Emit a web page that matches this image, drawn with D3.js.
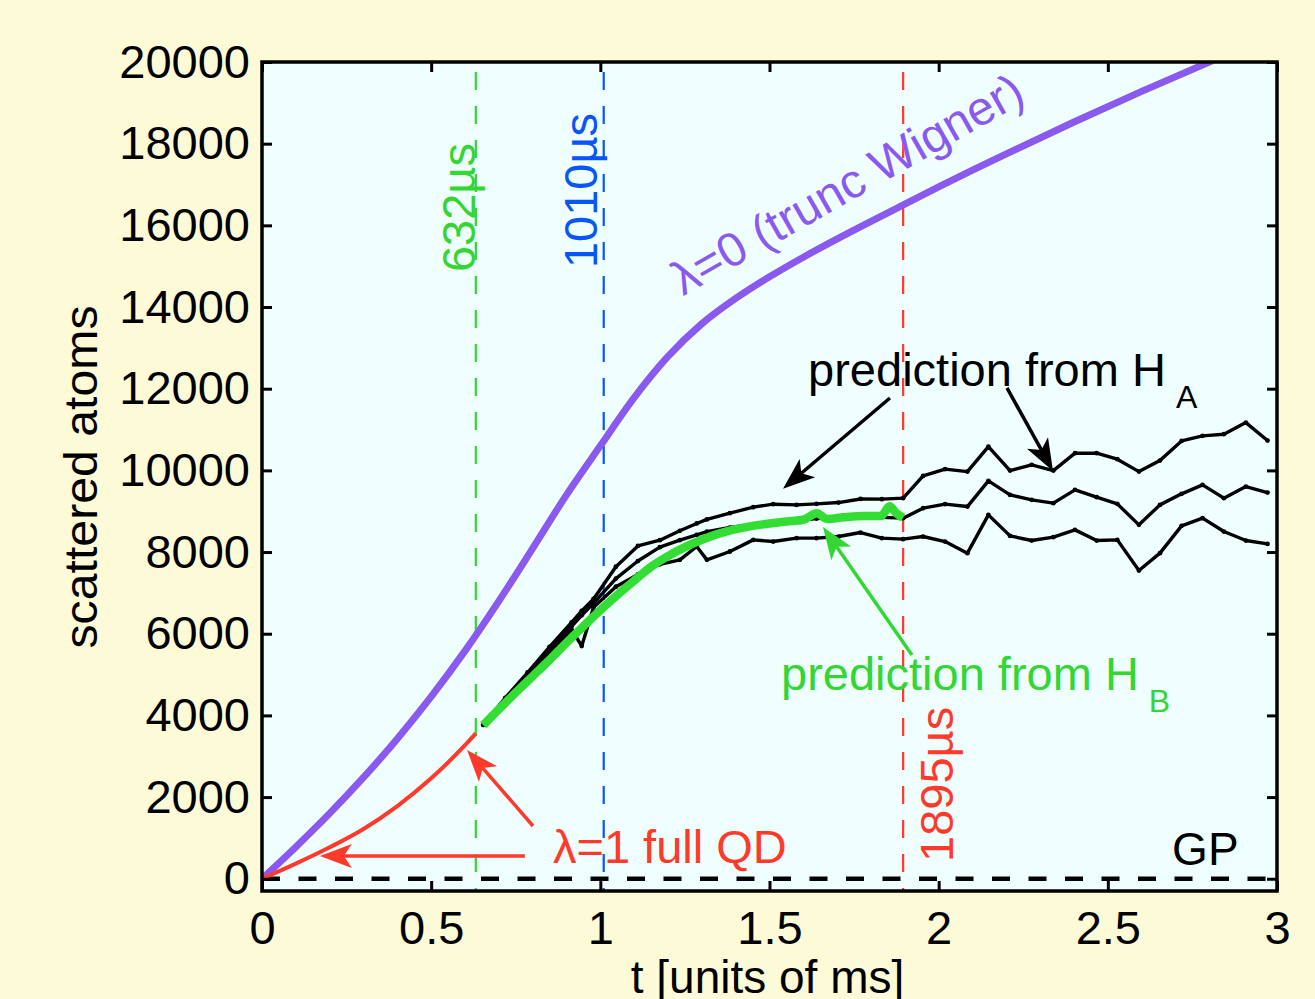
<!DOCTYPE html>
<html><head><meta charset="utf-8">
<script src="https://cdn.jsdelivr.net/npm/d3@7"></script>
<style>
html,body{margin:0;padding:0;background:#fdfad8;}
svg{display:block;}
text{font-family:"Liberation Sans",Arial,Helvetica,sans-serif;}
</style></head><body>
<svg id="chart" width="1315" height="999"></svg>
<script>
// ---------- data ----------
const xTicks = [0, 0.5, 1, 1.5, 2, 2.5, 3];
const xTickLabels = ["0", "0.5", "1", "1.5", "2", "2.5", "3"];
const yTicks = [0, 2000, 4000, 6000, 8000, 10000, 12000, 14000, 16000, 18000, 20000];

// lambda = 0 (truncated Wigner)
const tPurple = [0, 0.1, 0.2, 0.3, 0.4, 0.5, 0.6, 0.7, 0.8, 0.9, 1.0, 1.1, 1.2, 1.3, 1.4, 1.5, 1.6, 1.7, 1.8, 1.9, 2.0, 2.1, 2.2, 2.4, 2.6, 2.81];
const vPurple = [0, 780, 1600, 2480, 3430, 4460, 5580, 6800, 8090, 9400, 10600, 11780, 12790, 13590, 14210, 14740, 15220, 15670, 16100, 16520, 16940, 17350, 17750, 18530, 19280, 20035];

// lambda = 1 full QD
const tRed = [0, 0.1, 0.2, 0.3, 0.4, 0.5, 0.6, 0.632];
const vRed = [0, 370, 770, 1220, 1780, 2460, 3270, 3560];

// prediction from H_B
const tHB = [0.654, 0.70, 0.75, 0.80, 0.85, 0.90, 0.95, 1.0, 1.05, 1.1, 1.15, 1.2, 1.25, 1.3, 1.35, 1.4, 1.45, 1.5, 1.55, 1.6, 1.64, 1.67, 1.72, 1.78, 1.83, 1.855, 1.875, 1.895];
const vHB = [3760, 4150, 4560, 4960, 5360, 5780, 6180, 6580, 6950, 7300, 7640, 7900, 8120, 8300, 8450, 8560, 8640, 8700, 8750, 8790, 8950, 8810, 8850, 8880, 8880, 9120, 8950, 8840];

// prediction from H_A (three runs)
const tHA = [0.654, 0.719, 0.785, 0.850, 0.915, 0.945, 0.980, 1.046, 1.111, 1.176, 1.235, 1.285, 1.315, 1.383, 1.452, 1.511, 1.580, 1.639, 1.704, 1.769, 1.832, 1.895,
             1.954, 2.019, 2.085, 2.147, 2.211, 2.275, 2.339, 2.403, 2.467, 2.528, 2.592, 2.654, 2.718, 2.780, 2.843, 2.908, 2.972];
const vHAtop = [3770, 4430, 5050, 5680, 6280, 6560, 6850, 7640, 8150, 8290, 8520, 8700, 8800, 8952, 9099, 9172, 9155, 9180, 9212, 9300, 9295, 9320,
                9865, 10030, 9970, 10583, 9995, 10135, 9995, 10421, 10421, 10274, 9970, 10240, 10722, 10845, 10886, 11170, 10730];
const vHAmid = [3770, 4380, 5000, 5600, 6180, 6450, 6750, 7350, 7780, 8120, 8290, 8421, 8500, 8600, 8670, 8720, 8770, 8820, 8850, 8860, 8850, 8830,
                9075, 9173, 9114, 9743, 9400, 9278, 9197, 9523, 9344, 9180, 8666, 9155, 9425, 9645, 9320, 9603, 9457];
const vHAlow = [3770, 4350, 4950, 5530, 6100, 5700, 6650, 7150, 7450, 7700, 7809, 8135, 7809, 8013, 8298, 8257, 8340, 8340, 8380, 8478, 8340, 8316,
                8380, 8257, 7973, 8910, 8396, 8282, 8364, 8543, 8282, 8298, 7547, 7973, 8641, 8830, 8502, 8282, 8200];

// vertical time markers
const markerT = [0.632, 1.010, 1.895];
const markerLabels = ["632\u00b5s", "1010\u00b5s", "1895\u00b5s"];
const markerColors = ["#33d633", "#0a55f5", "#ff3a2a"];

// ---------- setup ----------
const W = 1315, H = 999;
const L = 262, R = 1277, T = 62, B = 891;
const svg = d3.select("#chart");
const x = d3.scaleLinear().domain([0, 3]).range([L, R]);
const y = d3.scaleLinear().domain([-300, 20000]).range([B, T]);

svg.append("rect").attr("width", W).attr("height", H).attr("fill", "#fdfad8");
svg.append("rect").attr("x", L).attr("y", T).attr("width", R - L).attr("height", B - T).attr("fill", "#effefe");

const clip = svg.append("clipPath").attr("id", "clip");
clip.append("rect").attr("x", L).attr("y", T).attr("width", R - L).attr("height", B - T);
const g = svg.append("g").attr("clip-path", "url(#clip)");

const line = (ts, vs, curve) => d3.line().curve(curve || d3.curveLinear)
  .x((d, i) => x(ts[i])).y((d, i) => y(vs[i]))(vs);

// GP baseline (zero) dashed
g.append("line").attr("x1", x(0)).attr("x2", x(3)).attr("y1", y(0)).attr("y2", y(0))
  .attr("stroke", "#000").attr("stroke-width", 4.5).attr("stroke-dasharray", "18,18.5");

// vertical dashed markers
markerT.forEach((t, i) => {
  g.append("line").attr("x1", x(t)).attr("x2", x(t)).attr("y1", T + 10).attr("y2", B)
    .attr("stroke", markerColors[i]).attr("stroke-width", 2.2).attr("stroke-dasharray", "18,16");
});

// purple
g.append("path").attr("d", line(tPurple, vPurple, d3.curveMonotoneX)).attr("fill", "none")
  .attr("stroke", "#8a5af0").attr("stroke-width", 7).attr("stroke-linejoin", "round");
// red
g.append("path").attr("d", line(tRed, vRed, d3.curveMonotoneX)).attr("fill", "none")
  .attr("stroke", "#ff3a2a").attr("stroke-width", 4).attr("stroke-linejoin", "round");

// black HA lines
[vHAlow, vHAmid, vHAtop].forEach(vs => {
  g.append("path").attr("d", line(tHA, vs)).attr("fill", "none")
    .attr("stroke", "#000").attr("stroke-width", 3.4).attr("stroke-linejoin", "round");
  g.selectAll(null).data(vs).enter().append("circle")
    .attr("cx", (d, i) => x(tHA[i])).attr("cy", d => y(d)).attr("r", 2.4).attr("fill", "#000");
});

// green HB
g.append("path").attr("d", line(tHB, vHB, d3.curveMonotoneX)).attr("fill", "none")
  .attr("stroke", "#33dd33").attr("stroke-width", 8.5).attr("stroke-linejoin", "round");

// ---------- axes ----------
const fs = 47;
const axL = svg.append("g").attr("transform", `translate(${L},0)`)
  .call(d3.axisLeft(y).tickValues(yTicks).tickSize(-10).tickPadding(12).tickFormat(d3.format("d")));
const axB = svg.append("g").attr("transform", `translate(0,${B})`)
  .call(d3.axisBottom(x).tickValues(xTicks).tickSize(-10).tickPadding(20).tickFormat((d, i) => xTickLabels[i]));
const axR = svg.append("g").attr("transform", `translate(${R},0)`)
  .call(d3.axisRight(y).tickValues(yTicks).tickSize(-10).tickFormat(""));
const axT = svg.append("g").attr("transform", `translate(0,${T})`)
  .call(d3.axisTop(x).tickValues(xTicks).tickSize(-10).tickFormat(""));
[axL, axB, axR, axT].forEach(a => {
  a.select(".domain").remove();
  a.selectAll(".tick line").attr("stroke", "#000").attr("stroke-width", 3);
  a.selectAll(".tick text").attr("fill", "#000").style("font-size", fs + "px")
    .style("font-family", '"Liberation Sans", Arial, sans-serif');
});
// frame
svg.append("rect").attr("x", L).attr("y", T).attr("width", R - L).attr("height", B - T)
  .attr("fill", "none").attr("stroke", "#000").attr("stroke-width", 3.5);

// axis titles
svg.append("text").attr("x", (L + R) / 2 - 2).attr("y", 993).attr("text-anchor", "middle")
  .style("font-size", "46px").attr("fill", "#000").text("t [units of ms]");
svg.append("text").attr("transform", "translate(97,477) rotate(-90)").attr("text-anchor", "middle")
  .style("font-size", "47px").attr("fill", "#000")
  .attr("textLength", 343).attr("lengthAdjust", "spacingAndGlyphs").text("scattered atoms");

// ---------- annotations ----------
function arrow(t1, v1, t2, v2, color, w) {
  const x1 = x(t1), y1 = y(v1), x2 = x(t2), y2 = y(v2);
  const a = Math.atan2(y2 - y1, x2 - x1);
  const hl = 32, hw = 12, notch = 24;
  const ux = Math.cos(a), uy = Math.sin(a), px = -uy, py = ux;
  svg.append("line").attr("x1", x1).attr("y1", y1)
    .attr("x2", x2 - ux * notch).attr("y2", y2 - uy * notch)
    .attr("stroke", color).attr("stroke-width", w);
  const pts = [[x2, y2], [x2 - ux * hl + px * hw, y2 - uy * hl + py * hw],
               [x2 - ux * notch, y2 - uy * notch], [x2 - ux * hl - px * hw, y2 - uy * hl - py * hw]];
  svg.append("polygon").attr("points", pts.map(p => p.join(",")).join(" ")).attr("fill", color);
}
arrow(1.856, 11773, 1.540, 9548, "#000", 3.5);
arrow(2.202, 12018, 2.338, 9986, "#000", 3.5);
arrow(1.921, 5479, 1.658, 8613, "#33d633", 3.5);
arrow(0.777, 557, 0.171, 557, "#ff3a2a", 3.5);
arrow(0.801, 1292, 0.606, 3153, "#ff3a2a", 3.5);

// marker labels (rotated)
const markerLabelPos = [[0.630, 14855], [0.990, 14953], [2.042, 411]];
markerLabelPos.forEach((p, i) => {
  svg.append("text").attr("transform", `translate(${x(p[0])},${y(p[1])}) rotate(-90)`)
    .style("font-size", "47px").attr("fill", markerColors[i]).text(markerLabels[i]);
});

// lambda=0 label
svg.append("text").attr("transform", `translate(${x(1.244)},${y(14263)}) rotate(-29.6)`)
  .style("font-size", "48px").attr("fill", "#8a5af0").text("\u03bb=0 (trunc Wigner)");

// prediction labels
const tA = svg.append("text").attr("x", x(1.614)).attr("y", y(12067)).style("font-size", "47px").attr("fill", "#000");
tA.append("tspan").text("prediction from H");
tA.append("tspan").attr("dx", 10).attr("dy", 22).style("font-size", "32px").text("A");

const tB = svg.append("text").attr("x", x(1.534)).attr("y", y(4622)).style("font-size", "47px").attr("fill", "#33d633");
tB.append("tspan").text("prediction from H");
tB.append("tspan").attr("dx", 10).attr("dy", 22).style("font-size", "32px").text("B");

svg.append("text").attr("x", x(0.860)).attr("y", y(389)).style("font-size", "47px").attr("fill", "#ff3a2a").text("\u03bb=1 full QD");
svg.append("text").attr("x", x(2.690)).attr("y", y(340)).style("font-size", "46px").attr("fill", "#000").text("GP");
</script>
</body></html>
